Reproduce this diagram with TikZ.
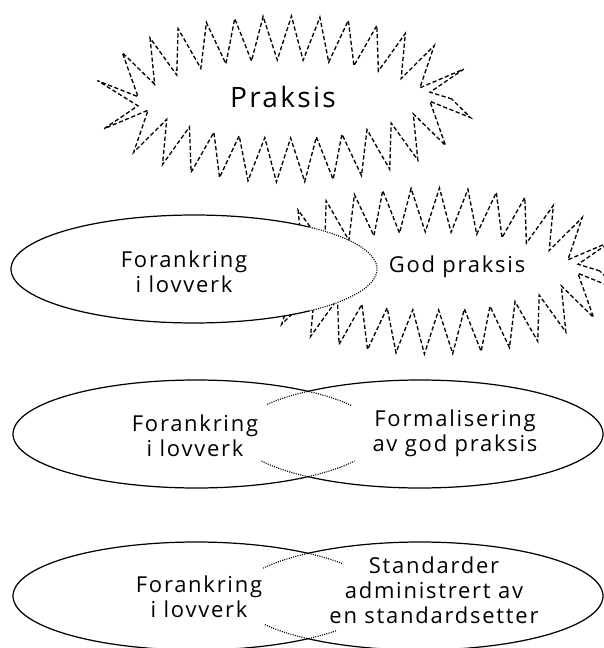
\documentclass[tikz,border=0pt]{standalone}
\usepackage{fontspec}
\setmainfont{Open Sans}[LetterSpace=8]
\usetikzlibrary{decorations.pathmorphing}

\tikzset{
  burst/.style={line width=0.75pt, dash pattern=on 2.4pt off 1.4pt,
    decorate, decoration={zigzag, segment length=15.43pt, amplitude=12.5pt}},
  outline/.style={line width=0.7pt},
  hidden/.style={line width=0.65pt, dash pattern=on 0.6pt off 0.7pt},
  tekst/.style={align=center, inner sep=0pt, font=\fontsize{12.5}{14.3}\selectfont},
}

\begin{document}
\begin{tikzpicture}[x=0.02cm, y=0.02cm]
  \useasboundingbox (0,0) rectangle (604,-648);
  % praksis
  \draw[burst] (284,-99) ellipse [x radius=168, y radius=61];
  \node[tekst, font=\fontsize{16}{18}\selectfont] (praksis) at (283,-97) {Praksis};
  % lov + god praksis
  \begin{scope}[even odd rule]
    \clip (0,-170) rectangle (604,-380) (194,-269) ellipse [x radius=183, y radius=54];
    \draw[burst] (432,-271) ellipse [x radius=168, y radius=61];
  \end{scope}
  \draw[outline] plot[domain=51:309, samples=90] ({194+183*cos(\x)}, {-269+54*sin(\x)});
  \draw[hidden] plot[domain=-51:51, samples=50] ({194+183*cos(\x)}, {-269+54*sin(\x)});
  \node[tekst] (lovA) at (184,-272) {Forankring\\i lovverk};
  \node[tekst] (god) at (457,-267) {God praksis};
  % lov + formalisering
  \draw[outline] plot[domain=52:308, samples=90] ({196+183*cos(\x)}, {-434+54*sin(\x)});
  \draw[outline] plot[domain=-128:128, samples=90] ({420+183*cos(\x)}, {-434+54*sin(\x)});
  \draw[hidden] plot[domain=32:52, samples=12] ({196+183*cos(\x)}, {-434+54*sin(\x)});
  \draw[hidden] plot[domain=-52:-30, samples=12] ({196+183*cos(\x)}, {-434+54*sin(\x)});
  \draw[hidden] plot[domain=128:147, samples=12] ({420+183*cos(\x)}, {-434+54*sin(\x)});
  \draw[hidden] plot[domain=-150:-128, samples=12] ({420+183*cos(\x)}, {-434+54*sin(\x)});
  \node[tekst] (lovB) at (195,-436) {Forankring\\i lovverk};
  \node[tekst] (formal) at (455,-433) {Formalisering\\av god praksis};
  % lov + standarder
  \draw[outline] plot[domain=52:308, samples=90] ({196+183*cos(\x)}, {-596+54*sin(\x)});
  \draw[outline] plot[domain=-128:128, samples=90] ({420+183*cos(\x)}, {-596+54*sin(\x)});
  \draw[hidden] plot[domain=37:52, samples=12] ({196+183*cos(\x)}, {-596+54*sin(\x)});
  \draw[hidden] plot[domain=-52:-40, samples=8] ({196+183*cos(\x)}, {-596+54*sin(\x)});
  \draw[hidden] plot[domain=128:149, samples=12] ({420+183*cos(\x)}, {-596+54*sin(\x)});
  \draw[hidden] plot[domain=-148:-128, samples=12] ({420+183*cos(\x)}, {-596+54*sin(\x)});
  \node[tekst] (lovC) at (199,-597) {Forankring\\i lovverk};
  \node[tekst] (std) at (434,-590) {Standarder\\administrert av\\en standardsetter};
\end{tikzpicture}
\end{document}
